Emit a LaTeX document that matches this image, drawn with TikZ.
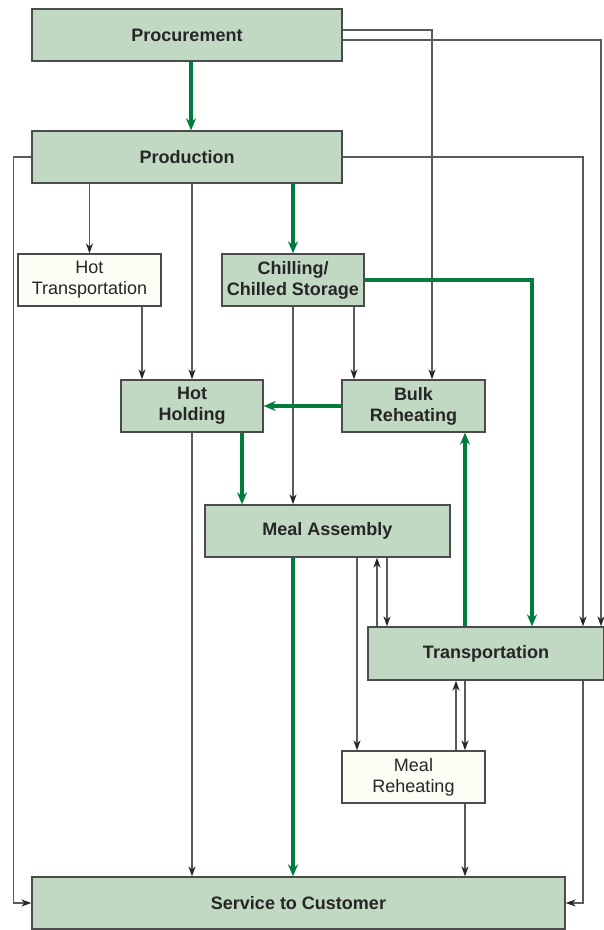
\documentclass[tikz,border=0pt]{standalone}
\usepackage{fontspec}
\setmainfont{Liberation Sans}
\usepackage{xcolor}
\usetikzlibrary{arrows.meta, positioning}

\definecolor{boxgreen}{RGB}{193,217,195}
\definecolor{boxcream}{RGB}{253,253,246}
\definecolor{flowgreen}{RGB}{0,125,62}
\definecolor{lanegray}{RGB}{90,90,90}
\definecolor{edgegray}{RGB}{75,75,75}

\tikzset{
  stage/.style={draw=edgegray, line width=1.3pt, fill=boxgreen, minimum height=52, align=center, inner sep=0pt, text=black!85, font=\fontsize{18}{21}\selectfont\bfseries},
  sidestage/.style={stage, fill=boxcream, font=\fontsize{18}{21}\selectfont},
  flow/.style={draw=lanegray, line width=1.3pt, -{Stealth[length=10pt,width=7pt,color=black!85]}},
  mainflow/.style={draw=flowgreen, line width=3.5pt, -{Stealth[length=12pt,width=10pt]}}
}

\begin{document}
\begin{tikzpicture}[x=1pt,y=1pt,yscale=-1,xscale=1]
%set diagram left start at 0, and has height of 930
\useasboundingbox (0,0) rectangle (604,930);

%Shape: Rectangle [Procurement]
\draw (187,35) node [stage, minimum width=310] (proc) {Procurement};
%Shape: Rectangle [Production]
\draw (187,157) node [stage, minimum width=310] (prod) {Production};
%Shape: Rectangle [Hot Transportation]
\draw (89.5,280) node [sidestage, minimum width=143] (hottr) {Hot\\Transportation};
%Shape: Rectangle [Chilling]
\draw (293,280) node [stage, minimum width=142] (chill) {Chilling/\\Chilled Storage};
%Shape: Rectangle [Hot Holding]
\draw (192,406) node [stage, minimum width=142] (hothold) {Hot\\Holding};
%Shape: Rectangle [Bulk Reheating]
\draw (413.5,406) node [stage, minimum width=143] (bulk) {Bulk\\Reheating};
%Shape: Rectangle [Meal Assembly]
\draw (327.5,531) node [stage, minimum width=245] (meal) {Meal Assembly};
%Shape: Rectangle [Transportation]
\draw (486,653.5) node [stage, minimum width=236, minimum height=53] (trans) {Transportation};
%Shape: Rectangle [Meal Reheating]
\draw (413.5,777) node [sidestage, minimum width=143] (mealre) {Meal\\Reheating};
%Shape: Rectangle [Service]
\draw (298.5,903) node [stage, minimum width=533] (serv) {Service to Customer};

%Straight Lines [Procurement out]
\draw [mainflow] ([xshift=4]proc.south) -- ([xshift=4]prod.north);
\draw [flow] ([yshift=5]proc.east) -| ([xshift=115]trans.north);
\draw [flow] ([yshift=-5]proc.east) -| ([xshift=18.5]bulk.north);

%Straight Lines [Production out]
\draw [flow] (prod.west) -- ++(-18,0) |- (serv.west);
\draw [flow] (hottr.north |- prod.south) -- (hottr.north);
\draw [flow] (hothold.north |- prod.south) -- (hothold.north);
\draw [mainflow] (chill.north |- prod.south) -- (chill.north);
\draw [flow] (prod.east) -| ([xshift=97]trans.north);

%Straight Lines [second row]
\draw [flow] ([xshift=-50]hothold.north |- hottr.south) -- ([xshift=-50]hothold.north);
\draw [mainflow] (chill.east) -| ([xshift=46]trans.north);
\draw [flow] (chill.south) -- (chill.south |- meal.north);
\draw [flow] ([xshift=-59.5]bulk.north |- chill.south) -- ([xshift=-59.5]bulk.north);

%Straight Lines [third row]
\draw [mainflow] (bulk.west) -- (hothold.east);
\draw [mainflow] ([xshift=50]hothold.south) -- ([xshift=50]hothold.south |- meal.north);
\draw [flow] (hothold.south) -- (hothold.south |- serv.north);

%Straight Lines [Meal Assembly]
\draw [mainflow] (chill.south |- meal.south) -- (chill.south |- serv.north);
\draw [flow] ([xshift=-56.5]mealre.north |- meal.south) -- ([xshift=-56.5]mealre.north);
\draw [flow] ([xshift=49.5]meal.south |- trans.north) -- ([xshift=49.5]meal.south);
\draw [flow] ([xshift=59.5]meal.south) -- ([xshift=59.5]meal.south |- trans.north);

%Straight Lines [Transportation]
\draw [mainflow] ([xshift=51.5]bulk.south |- trans.north) -- ([xshift=51.5]bulk.south);
\draw [flow] ([xshift=42.5]mealre.north) -- ([xshift=42.5]mealre.north |- trans.south);
\draw [flow] ([xshift=51.5]mealre.north |- trans.south) -- ([xshift=51.5]mealre.north);
\draw [flow] ([xshift=51.5]mealre.south) -- ([xshift=51.5]mealre.south |- serv.north);
\draw [flow] ([xshift=97]trans.south) |- (serv.east);

\end{tikzpicture}
\end{document}
